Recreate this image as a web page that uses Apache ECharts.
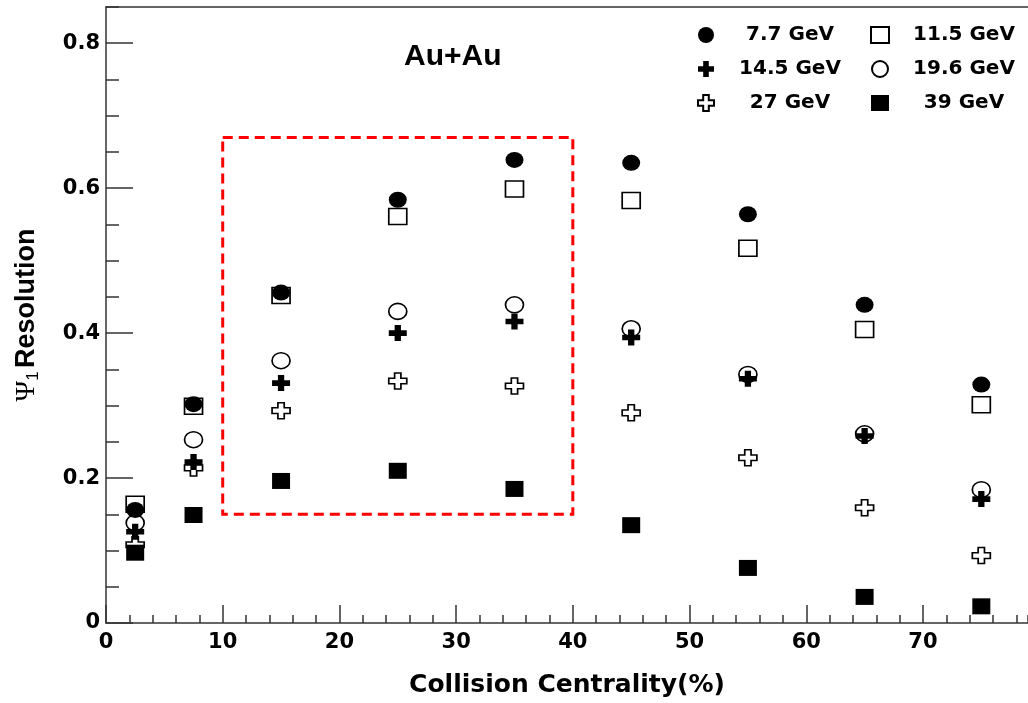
<!DOCTYPE html>
<html>
<head>
<meta charset="utf-8">
<script src="https://cdn.jsdelivr.net/npm/echarts@6/dist/echarts.min.js"></script>
<style>html,body{margin:0;padding:0;background:#fff;}#c{width:1028px;height:703px;}</style>
</head>
<body>
<div id="c"></div>
<script>
// ---- data ----
const centrality = [2.5, 7.5, 15, 25, 35, 45, 55, 65, 75];
const seriesNames = ['7.7 GeV', '11.5 GeV', '14.5 GeV', '19.6 GeV', '27 GeV', '39 GeV'];
const res_7_7  = [0.156, 0.302, 0.456, 0.584, 0.639, 0.635, 0.564, 0.439, 0.329];
const res_11_5 = [0.164, 0.299, 0.452, 0.561, 0.599, 0.583, 0.517, 0.405, 0.301];
const res_14_5 = [0.126, 0.222, 0.331, 0.400, 0.416, 0.394, 0.337, 0.258, 0.171];
const res_19_6 = [0.138, 0.253, 0.362, 0.430, 0.439, 0.406, 0.343, 0.261, 0.184];
const res_27   = [0.108, 0.214, 0.293, 0.334, 0.327, 0.290, 0.228, 0.159, 0.093];
const res_39   = [0.097, 0.149, 0.196, 0.210, 0.185, 0.135, 0.076, 0.036, 0.023];
const boxX = [10, 40];
const boxY = [0.15, 0.67];
const xTicks = [0, 10, 20, 30, 40, 50, 60, 70];
const yTicks = ['0', '0.2', '0.4', '0.6', '0.8'];

const WIDE = 'DejaVu Sans';
const crossPath = 'path://M6.5,0H13.5V6.5H20V13.5H13.5V20H6.5V13.5H0V6.5H6.5Z';
const pts = arr => centrality.map((x, i) => [x, arr[i]]);

const filled = { color: '#000', opacity: 1 };
const open = { color: 'rgba(255,255,255,0)', borderColor: '#000', borderWidth: 1.6, opacity: 1 };
const symSize = [18, 16];

const chart = echarts.init(document.getElementById('c'), null, { renderer: 'canvas' });

const mk = (name, data, symbol, style) => ({
  name, type: 'scatter', data: pts(data), symbol, symbolSize: symSize,
  itemStyle: style, xAxisIndex: 0, yAxisIndex: 0, z: 5,
  emphasis: { disabled: true }
});

const legendText = {
  rich: { t: { width: 140, align: 'center', fontSize: 20, fontWeight: 'bold', fontFamily: WIDE, color: '#000', lineHeight: 20 } }
};

const option = {
  animation: false,
  backgroundColor: '#fff',
  grid: { left: 106, right: 0, top: 7, bottom: 80, containLabel: false },
  graphic: [{
    type: 'text', left: 404, top: 42,
    style: { text: 'Au+Au', font: 'bold 30px "Liberation Sans"', fill: '#000' }
  }],
  legend: [
    {
      data: ['7.7 GeV', '14.5 GeV', '27 GeV'], orient: 'vertical', left: 692, top: 20,
      itemWidth: 18, itemHeight: 16, itemGap: 14, formatter: '{t|{name}}', textStyle: legendText,
      selectedMode: false
    },
    {
      data: ['11.5 GeV', '19.6 GeV', '39 GeV'], orient: 'vertical', left: 865, top: 20,
      itemWidth: 18, itemHeight: 16, itemGap: 14, formatter: '{t|{name}}', textStyle: legendText,
      selectedMode: false
    }
  ],
  xAxis: [
    {
      type: 'value', min: 0, max: 79, interval: 10, position: 'bottom',
      axisLine: { show: true, lineStyle: { color: '#333', width: 1.5 } },
      axisTick: { show: true, inside: true, length: 18, lineStyle: { color: '#333', width: 1.5 } },
      splitLine: { show: false },
      axisLabel: {
        margin: 9, fontSize: 21, fontWeight: 'bold', fontFamily: WIDE, color: '#000', showMaxLabel: false,
        formatter: v => xTicks.indexOf(v) >= 0 ? String(v) : ''
      },
      name: 'Collision Centrality(%)', nameLocation: 'middle', nameGap: 50,
      nameTextStyle: { fontSize: 25, fontWeight: 'bold', fontFamily: WIDE, color: '#000' }
    },
    {
      type: 'value', min: 0, max: 79, interval: 2, position: 'bottom',
      axisLine: { show: false }, axisLabel: { show: false }, splitLine: { show: false },
      axisTick: { show: true, inside: true, length: 8, lineStyle: { color: '#333', width: 1.5 } }
    },
    {
      type: 'value', min: 0, max: 79, position: 'top',
      axisLine: { show: true, lineStyle: { color: '#333', width: 1.5 } },
      axisTick: { show: false }, axisLabel: { show: false }, splitLine: { show: false }
    }
  ],
  yAxis: [
    {
      type: 'value', min: 0, max: 0.85, interval: 0.2, position: 'left',
      axisLine: { show: true, lineStyle: { color: '#333', width: 1.5 } },
      axisTick: { show: true, inside: true, length: 27, lineStyle: { color: '#333', width: 1.5 } },
      splitLine: { show: false },
      axisLabel: {
        margin: 6, fontSize: 21, fontWeight: 'bold', fontFamily: WIDE, color: '#000', showMaxLabel: false,
        formatter: v => { const s = v === 0 ? '0' : v.toFixed(1); return yTicks.indexOf(s) >= 0 ? s : ''; }
      },
      name: '{p|Ψ}{s|1} {r|Resolution}', nameLocation: 'middle', nameGap: 64, nameRotate: 90,
      nameTextStyle: {
        rich: {
          p: { fontSize: 28, fontFamily: 'Liberation Serif', color: '#000', verticalAlign: 'middle' },
          s: { fontSize: 17, fontFamily: 'Liberation Sans', color: '#000', padding: [14, 0, 0, 0] },
          r: { fontSize: 27, fontWeight: 'bold', fontFamily: 'Liberation Sans', color: '#000' }
        }
      }
    },
    {
      type: 'value', min: 0, max: 0.85, interval: 0.05, position: 'left',
      axisLine: { show: false }, axisLabel: { show: false }, splitLine: { show: false },
      axisTick: { show: true, inside: true, length: 13, lineStyle: { color: '#333', width: 1.5 } }
    }
  ],
  series: [
    mk('7.7 GeV', res_7_7, 'circle', filled),
    mk('11.5 GeV', res_11_5, 'rect', open),
    mk('14.5 GeV', res_14_5, crossPath, filled),
    mk('19.6 GeV', res_19_6, 'circle', open),
    mk('27 GeV', res_27, crossPath, open),
    mk('39 GeV', res_39, 'rect', filled),
    {
      name: 'box', type: 'scatter', data: [], xAxisIndex: 0, yAxisIndex: 0, silent: true,
      markArea: {
        silent: true,
        itemStyle: { color: 'rgba(0,0,0,0)', borderColor: '#ff0000', borderWidth: 3, borderType: [10, 6] },
        data: [[{ xAxis: boxX[0], yAxis: boxY[1] }, { xAxis: boxX[1], yAxis: boxY[0] }]]
      }
    }
  ]
};
chart.setOption(option);
</script>
</body>
</html>
